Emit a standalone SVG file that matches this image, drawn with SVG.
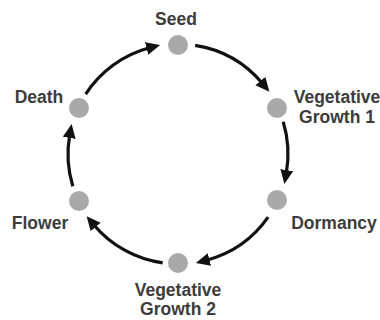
<svg xmlns="http://www.w3.org/2000/svg" width="380" height="320" viewBox="0 0 380 320">
<style>
.dot{fill:#a9a9a9}
.lbl{font-family:"Liberation Sans",Arial,sans-serif;font-weight:bold;font-size:17.5px;fill:#3c3c3c}
.arr{fill:none;stroke:#111;stroke-width:3.2;marker-end:url(#ah)}
</style>
<defs>
<marker id="ah" markerUnits="userSpaceOnUse" markerWidth="16" markerHeight="14" refX="3" refY="6.5" orient="auto">
<path d="M0,0 L14,6.5 L0,13 z" fill="#111"/>
</marker>
</defs>
<rect width="380" height="320" fill="#fff"/>
<g id="connectors">
<path class="arr" d="M85.7,94.1 A110,110 0 0 1 149.5,47.8"/>
<path class="arr" d="M195.2,45.4 A110,110 0 0 1 262.3,83.3"/>
<path class="arr" d="M283.2,121.8 A110,110 0 0 1 286.3,173.1"/>
<path class="arr" d="M268.1,217.1 A110,110 0 0 1 206.5,260.2"/>
<path class="arr" d="M162.7,262.9 A110,110 0 0 1 93.7,224.7"/>
<path class="arr" d="M72.8,186.2 A110,110 0 0 1 69.7,134.9"/>
</g>
<g id="seed">
<circle class="dot" cx="178" cy="45" r="10"/>
<text class="lbl" x="176" y="25" text-anchor="middle">Seed</text>
</g>
<g id="veg1">
<circle class="dot" cx="277" cy="108" r="10"/>
<text class="lbl" x="337" y="103" text-anchor="middle">Vegetative</text>
<text class="lbl" x="337" y="123" text-anchor="middle">Growth 1</text>
</g>
<g id="dormancy">
<circle class="dot" cx="277" cy="200" r="10"/>
<text class="lbl" x="334" y="229" text-anchor="middle">Dormancy</text>
</g>
<g id="veg2">
<circle class="dot" cx="178" cy="263" r="10"/>
<text class="lbl" x="178" y="296" text-anchor="middle">Vegetative</text>
<text class="lbl" x="178" y="315" text-anchor="middle">Growth 2</text>
</g>
<g id="flower">
<circle class="dot" cx="79" cy="201" r="10"/>
<text class="lbl" x="40" y="229" text-anchor="middle">Flower</text>
</g>
<g id="death">
<circle class="dot" cx="79" cy="108" r="10"/>
<text class="lbl" x="39" y="103" text-anchor="middle">Death</text>
</g>
</svg>
